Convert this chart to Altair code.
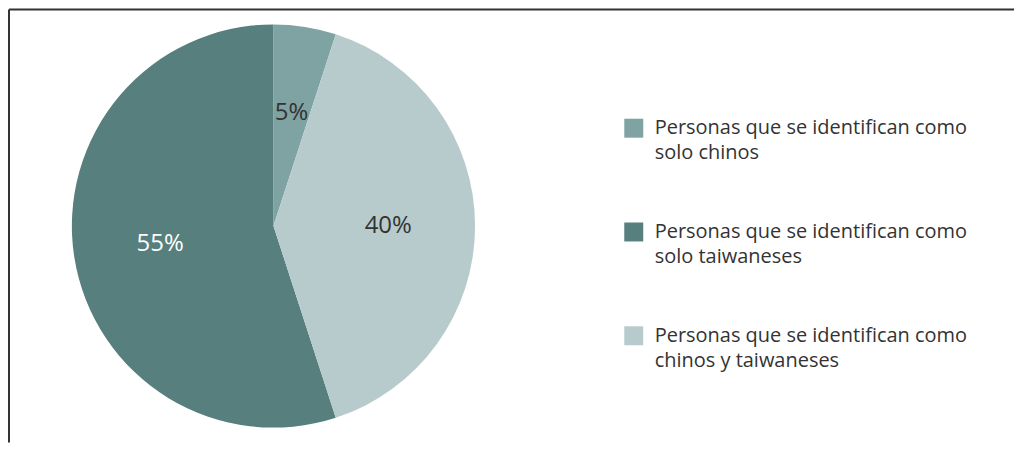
import altair as alt
import pandas as pd

categories = [
    "Personas que se identifican como solo chinos",
    "Personas que se identifican como solo taiwaneses",
    "Personas que se identifican como chinos y taiwaneses",
]
values = [5, 55, 40]
labels = ["5%", "55%", "40%"]
pie_order = [1, 3, 2]
colors = ["#7fa3a2", "#567f7e", "#b7cbcc"]

df = pd.DataFrame({"category": categories, "value": values, "label": labels, "pie_order": pie_order})

base = alt.Chart(df).encode(
    theta=alt.Theta("value:Q", stack=True),
    order=alt.Order("pie_order:Q"),
)

arc = base.mark_arc(outerRadius=202).encode(
    color=alt.Color(
        "category:N",
        scale=alt.Scale(domain=categories, range=colors),
        legend=alt.Legend(
            title=None,
            orient="none",
            legendX=616,
            legendY=109,
            direction="vertical",
            symbolType="square",
            symbolSize=361,
            symbolStrokeWidth=0,
            symbolOpacity=1,
            labelFont="Open Sans",
            labelFontSize=20,
            labelColor="#333333",
            labelLimit=500,
            labelOffset=11,
            labelBaseline="middle",
            rowPadding=59,
            labelExpr="[slice(datum.label, 0, 32), slice(datum.label, 33)]",
        ),
    )
)

text = base.mark_text(radius=115, font="Open Sans", fontSize=24).encode(
    text="label:N",
    color=alt.condition(alt.datum.label == "55%", alt.value("#ffffff"), alt.value("#333333")),
)

frame_df = pd.DataFrame({"a": [0]})
top_rule = alt.Chart(frame_df).mark_rule(color="#333333", strokeWidth=2).encode(
    x=alt.value(0), x2=alt.value(1007), y=alt.value(0)
)
left_rule = alt.Chart(frame_df).mark_rule(color="#333333", strokeWidth=2).encode(
    x=alt.value(0), y=alt.value(0), y2=alt.value(434)
)

chart = (
    alt.layer(arc, text, top_rule, left_rule)
    .properties(width=530, height=434, padding=0)
    .configure(style={"guide-label": {"lineHeight": 25}})
    .configure_view(stroke=None)
)

chart.save("out.html", embed_options={"renderer": "svg", "actions": False})
